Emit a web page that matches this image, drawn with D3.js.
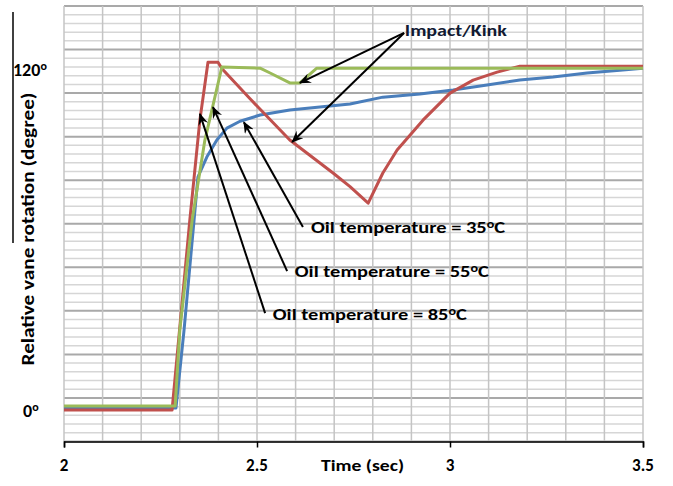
<!DOCTYPE html>
<html>
<head>
<meta charset="utf-8">
<script src="https://cdn.jsdelivr.net/npm/d3@7"></script>
<style>
  body { margin: 0; background: #fff; }
  svg text { font-family: Carlito, "Open Sans", sans-serif; fill: #000; }
</style>
</head>
<body>
<div id="chart"></div>
<script>
// time (sec), rotation (deg)
var oil85 = [[2.0, 0], [2.28, 0], [2.326, 66.9], [2.352, 102.0], [2.373, 122.4], [2.399, 122.4],
  [2.41, 120.0], [2.482, 109.5], [2.585, 95.0], [2.697, 83.4], [2.741, 78.6], [2.788, 72.8],
  [2.826, 83.4], [2.863, 91.5], [2.93, 102.0], [3.0, 111.5], [3.06, 116.1], [3.122, 118.9],
  [3.181, 121.0], [3.5, 121.0]];
var oil55 = [[2.0, 1.4], [2.288, 1.4], [2.3, 28.1], [2.332, 66.9], [2.365, 95.0], [2.409, 120.7],
  [2.508, 120.3], [2.534, 118.6], [2.585, 115.1], [2.611, 115.1], [2.655, 120.3], [3.5, 120.3]];
var oil35 = [[2.0, 0.7], [2.29, 0.7], [2.311, 28.1], [2.337, 66.9], [2.347, 82.0], [2.37, 89.0],
  [2.396, 95.0], [2.422, 99.2], [2.456, 101.6], [2.508, 103.8], [2.585, 105.6], [2.663, 106.6],
  [2.741, 107.7], [2.826, 110.1], [2.922, 111.2], [3.008, 112.6], [3.096, 114.4], [3.181, 116.1],
  [3.267, 117.2], [3.355, 118.6], [3.44, 119.6], [3.5, 120.3]];

var xTicks = [2, 2.5, 3, 3.5];
var xTickLabels = ["2", "2.5", "3", "3.5"];
var yLabels = [120, 0];

var width = 673, height = 486;
var plotLeft = 64, plotRight = 643, plotTop = 6, plotBottom = 441.5;

var svg = d3.select("#chart").append("svg")
  .attr("width", width)
  .attr("height", height);

var x = d3.scaleLinear().domain([2, 3.5]).range([plotLeft, plotRight]);
var y = d3.scaleLinear().domain([-11.08, 142.17]).range([plotBottom, plotTop]);
// the grid is drawn on its own scale, 10 major bands of 5
var grid = d3.scaleLinear().domain([0, 50]).range([plotBottom, plotTop]);

var defs = svg.append("defs");
defs.append("marker")
  .attr("id", "arrow")
  .attr("viewBox", "0 0 12 10")
  .attr("refX", 11).attr("refY", 5)
  .attr("markerWidth", 12).attr("markerHeight", 10)
  .attr("markerUnits", "userSpaceOnUse")
  .attr("orient", "auto")
  .append("path")
    .attr("d", "M0,0 L12,5 L0,10 L4,5 Z")
    .attr("fill", "#000");

// horizontal grid
svg.append("g").selectAll("line")
  .data(d3.range(0, 51))
  .join("line")
    .attr("x1", plotLeft).attr("x2", plotRight)
    .attr("y1", d => grid(d)).attr("y2", d => grid(d))
    .attr("stroke", d => d % 5 == 0 ? "#a9a9a9" : "#d6d6d6")
    .attr("stroke-width", d => d % 5 == 0 ? 2 : 1.5);

// vertical grid every 0.1 s
svg.append("g").selectAll("line")
  .data(d3.range(0, 16))
  .join("line")
    .attr("x1", d => x(2 + d / 10)).attr("x2", d => x(2 + d / 10))
    .attr("y1", plotTop).attr("y2", plotBottom)
    .attr("stroke", "#c4c4c4")
    .attr("stroke-width", 1.5);

// x axis
var xAxis = svg.append("g")
  .attr("transform", `translate(0,${plotBottom})`)
  .call(d3.axisBottom(x).tickValues(xTicks).tickSize(6).tickFormat(""));
xAxis.select(".domain").attr("stroke", "#000").attr("stroke-width", 1.5);
xAxis.selectAll(".tick line").attr("stroke", "#000").attr("stroke-width", 1.5);

svg.append("g").selectAll("text")
  .data(xTicks)
  .join("text")
    .attr("x", d => x(d))
    .attr("y", 471)
    .attr("text-anchor", "middle")
    .style("font-size", "17px")
    .style("font-weight", "bold")
    .text((d, i) => xTickLabels[i]);

svg.append("text")
  .attr("x", 321).attr("y", 471)
  .attr("textLength", 83).attr("lengthAdjust", "spacingAndGlyphs")
  .style("font-size", "16px")
  .style("font-weight", 600)
  .text("Time (sec)");

// y labels
var yl = svg.append("g").selectAll("text")
  .data(yLabels)
  .join("text")
    .attr("x", d => d == 0 ? 23 : 13)
    .attr("y", d => y(d) + 7)
    .style("font-size", "18px")
    .style("font-weight", "bold");
yl.append("tspan").text(d => d);
yl.append("tspan").attr("dy", -6).style("font-size", "12px").text("o");

svg.append("text")
  .attr("transform", "translate(34,229) rotate(-90)")
  .attr("text-anchor", "middle")
  .attr("textLength", 273).attr("lengthAdjust", "spacingAndGlyphs")
  .style("font-size", "17px")
  .style("font-weight", "bold")
  .text("Relative vane rotation (degree)");

svg.append("line")
  .attr("x1", 13).attr("x2", 13).attr("y1", 12).attr("y2", 243)
  .attr("stroke", "#000").attr("stroke-width", 1.5);

// curves
var line = d3.line().x(d => x(d[0])).y(d => y(d[1]));
var series = [
  {data: oil35, color: "#4a7ebb"},
  {data: oil85, color: "#c0504d"},
  {data: oil55, color: "#9bbb59"}
];
svg.append("g").selectAll("path")
  .data(series)
  .join("path")
    .attr("fill", "none")
    .attr("stroke", d => d.color)
    .attr("stroke-width", 3)
    .attr("stroke-linejoin", "round")
    .attr("d", d => line(d.data));

// annotations
var arrows = [
  [[2.881, 132.7], [2.611, 115.1]],
  [[2.881, 132.7], [2.591, 94.3]],
  [[2.619, 64.4], [2.466, 101.3]],
  [[2.578, 48.9], [2.386, 106.6]],
  [[2.521, 34.1], [2.352, 104.2]]
];
svg.append("g").selectAll("line")
  .data(arrows)
  .join("line")
    .attr("x1", d => x(d[0][0])).attr("y1", d => y(d[0][1]))
    .attr("x2", d => x(d[1][0])).attr("y2", d => y(d[1][1]))
    .attr("stroke", "#000")
    .attr("stroke-width", 2)
    .attr("marker-end", "url(#arrow)");

svg.append("text")
  .attr("x", x(2.883)).attr("y", y(131.6))
  .attr("textLength", 102).attr("lengthAdjust", "spacingAndGlyphs")
  .style("font-size", "16px")
  .style("font-weight", 600)
  .style("fill", "#111a33")
  .text("Impact/Kink");

var labels = [
  {t: 2.640, v: 62.3, temp: "35"},
  {t: 2.598, v: 46.8, temp: "55"},
  {t: 2.541, v: 31.7, temp: "85"}
];
var lt = svg.append("g").selectAll("text")
  .data(labels)
  .join("text")
    .attr("x", d => x(d.t)).attr("y", d => y(d.v))
    .attr("textLength", 194).attr("lengthAdjust", "spacingAndGlyphs")
    .style("font-size", "16px")
    .style("font-weight", 600);
lt.append("tspan").text(d => "Oil temperature = " + d.temp);
lt.append("tspan").attr("dy", -5).style("font-size", "11px").text("o");
lt.append("tspan").attr("dy", 5).text("C");
</script>
</body>
</html>
